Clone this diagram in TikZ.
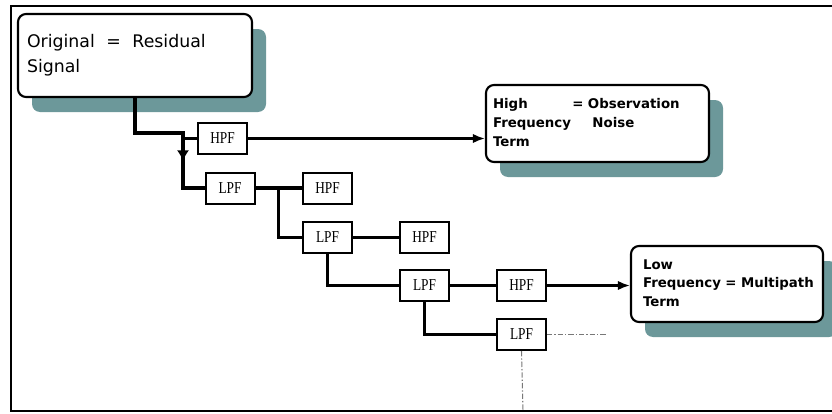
\documentclass[tikz,border=0pt]{standalone}
\usepackage{fontspec}
\setmainfont{DejaVu Sans}
\newfontfamily\filtfont[FakeStretch=0.8]{Liberation Serif}
\usetikzlibrary{shadows,calc,arrows.meta}
\definecolor{shadowc}{RGB}{108,152,154}
\definecolor{tailc}{RGB}{120,120,120}
\tikzset{
  termbox/.style={draw, line width=1.6pt, rounded corners=6pt, fill=white, align=left,
    drop shadow={shadow xshift=10.5pt, shadow yshift=-11.25pt, fill=shadowc, opacity=1}},
  filt/.style={draw, line width=1.5pt, fill=white, inner sep=0pt,
    minimum width=36.75pt, minimum height=23.25pt,
    font=\filtfont\fontsize{12.5pt}{14pt}\selectfont},
  thickline/.style={line width=2.4pt},
  medline/.style={line width=2pt},
  thinline/.style={line width=1.6pt},
  tailline/.style={line width=0.8pt, tailc, dash pattern=on 4pt off 1.5pt on 1pt off 1.5pt},
  downtip/.style={-{Latex[length=8pt,width=9pt]}},
}
\begin{document}
\begin{tikzpicture}[x=0.75pt, y=-0.75pt, >={Latex[length=9pt,width=7pt]}]
	\useasboundingbox (0,0) rectangle (832,414);
	% 1. frame
	\draw[line width=1.8pt] (840,6) -- (11,6) -- (11,411) -- (840,411);

	% 2. signal and term boxes
	\node[termbox, minimum width=175.5pt, minimum height=62.25pt, inner xsep=6.75pt,
	      text width=162pt, font=\fontsize{13pt}{18.75pt}\selectfont] (orig) at (135,55.5)
	      {Original\ \ =\ \ Residual\\Signal};
	\node[termbox, minimum width=167.25pt, minimum height=57.75pt, inner xsep=5.25pt,
	      text width=156.75pt, font=\fontsize{10pt}{14.25pt}\selectfont\bfseries] (high) at (597.5,123.5)
	      {\begin{tabular}{@{}l@{\hspace{1pt}}l@{}}High & =\ Observation\\
	        Frequency & \phantom{=}\ \ Noise\\ Term & \end{tabular}};
	\node[termbox, minimum width=144pt, minimum height=57pt, inner xsep=9pt,
	      text width=126pt, font=\fontsize{10pt}{14pt}\selectfont\bfseries] (low) at (727,284)
	      {\begin{tabular}{@{}l@{}}Low\\ Frequency = Multipath\\ Term\end{tabular}};

	% 3. filter bank
	\node[filt] (hpf1) at (222.5,138.5) {HPF};
	\node[filt] (lpf1) at (230,188) {LPF};
	\node[filt] (hpf2) at (327.5,188) {HPF};
	\node[filt] (lpf2) at (327.5,237.5) {LPF};
	\node[filt] (hpf3) at (424.5,237.5) {HPF};
	\node[filt] (lpf3) at (424.5,285.5) {LPF};
	\node[filt] (hpf4) at (521.5,285.5) {HPF};
	\node[filt] (lpf4) at (521.5,334.5) {LPF};

	\coordinate (jA) at (183,133);
	\coordinate (jArrow) at (183,161);
	\coordinate (jC) at ($(lpf1.east)!0.5!(hpf2.west)$);
	\coordinate (tailR) at (607,334.5);
	\coordinate (tailB) at (523,411);

	% 4. connectors
	\draw[thickline] (orig.south) |- (jA) |- (lpf1.west);
	\draw[line width=1pt, downtip] (jA) -- (jArrow);
	\draw[thinline] (hpf1.west -| jA) -- (hpf1.west);
	\draw[thinline, ->] (hpf1.east) -- (hpf1.east -| high.west);
	\draw[thickline] (lpf1.east) -- (hpf2.west);
	\draw[thickline] (jC) |- (lpf2.west);
	\draw[medline] (lpf2.east) -- (hpf3.west);
	\draw[medline] (lpf2.south) |- (lpf3.west);
	\draw[thinline] (lpf3.east) -- (hpf4.west);
	\draw[thinline] (lpf3.south) |- (lpf4.west);
	\draw[thinline, ->] (hpf4.east) -- (hpf4.east -| low.west);
	\draw[tailline] (lpf4.east) -- (tailR);
	\draw[tailline] (lpf4.south) -- (tailB);
\end{tikzpicture}
\end{document}
